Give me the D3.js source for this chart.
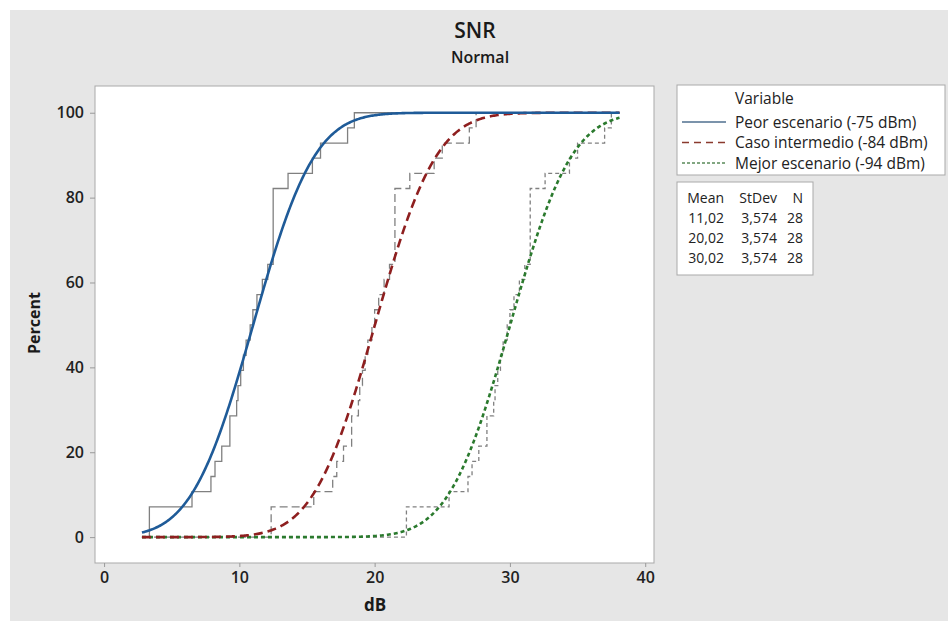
<!DOCTYPE html>
<html>
<head>
<meta charset="utf-8">
<script src="https://cdn.jsdelivr.net/npm/d3@7"></script>
<style>
  html, body { margin: 0; padding: 0; background: #ffffff; }
  svg { display: block; font-family: "Open Sans", "Noto Sans", sans-serif; }
</style>
</head>
<body>
<svg id="chart" width="948" height="621"></svg>
<script>
// ---------------- DATA ----------------
const categories = ["Peor escenario (-75 dBm)", "Caso intermedio (-84 dBm)", "Mejor escenario (-94 dBm)"];

const peorValues = [3.35, 3.35, 6.5, 7.9, 8.2, 8.7, 9.3, 9.3, 9.8, 9.9, 10.1, 10.3, 10.5, 10.8,
  11.0, 11.3, 11.7, 12.1, 12.5, 12.5, 12.5, 12.5, 12.5, 13.6, 15.4, 16.0, 18.0, 18.5];
const intermedioValues = [12.35, 12.35, 15.5, 16.9, 17.2, 17.7, 18.3, 18.3, 18.8, 18.9, 19.1, 19.3, 19.5, 19.8,
  20.0, 20.3, 20.7, 21.1, 21.5, 21.5, 21.5, 21.5, 21.5, 22.6, 24.4, 25.0, 27.0, 27.5];
const mejorValues = [22.35, 22.35, 25.5, 26.9, 27.2, 27.7, 28.3, 28.3, 28.8, 28.9, 29.1, 29.3, 29.5, 29.8,
  30.0, 30.3, 30.7, 31.1, 31.5, 31.5, 31.5, 31.5, 31.5, 32.6, 34.4, 35.0, 37.0, 37.5];

const means = [11.02, 20.02, 30.02];
const stdevs = [3.574, 3.574, 3.574];
const counts = [28, 28, 28];
const meanLabels = ["11,02", "20,02", "30,02"];
const stdevLabels = ["3,574", "3,574", "3,574"];

const xTicks = [0, 10, 20, 30, 40];
const yTicks = [0, 20, 40, 60, 80, 100];
const lineRange = [2.8, 38.1];   // x-range over which the curves are drawn

// ---------------- STYLE ----------------
const fitColors = ["#1f5b98", "#8e1f1f", "#2b7a2e"];
const legendColors = ["#4f6f8f", "#8a3a2e", "#5a8a5a"];
const stepColor = "#808080";
const fitDash = [null, "9,5", "4,3"];
const stepDash = [null, "8,4", "4,3"];
const legendDash = [null, "7,5", "3,2"];

const svg = d3.select("#chart");
const W = 948, H = 621;

// background
svg.append("rect").attr("x", 10).attr("y", 10).attr("width", W - 10).attr("height", H - 10).attr("fill", "#e6e6e6");

const plot = { left: 95, right: 654, top: 86, bottom: 563 };
const x = d3.scaleLinear().domain([-0.67, 40.65]).range([plot.left, plot.right]);
const y = d3.scaleLinear().domain([-6.1, 106.3]).range([plot.bottom, plot.top]);

// plot area
svg.append("rect").attr("x", plot.left).attr("y", plot.top)
  .attr("width", plot.right - plot.left).attr("height", plot.bottom - plot.top)
  .attr("fill", "#ffffff").attr("stroke", "#a9a9a9").attr("stroke-width", 1);

// titles
svg.append("text").attr("x", 475).attr("y", 38).attr("text-anchor", "middle")
  .attr("font-size", 21).attr("font-weight", 600).attr("fill", "#1a1a1a").text("SNR");
svg.append("text").attr("x", 480).attr("y", 63).attr("text-anchor", "middle")
  .attr("font-size", 16).attr("font-weight", 600).attr("fill", "#1a1a1a").text("Normal");

// axes
const xAxis = d3.axisBottom(x).tickValues(xTicks).tickSize(4).tickPadding(5).tickSizeOuter(0);
const gx = svg.append("g").attr("transform", `translate(0,${plot.bottom})`).call(xAxis);
gx.select(".domain").remove();
gx.selectAll("line").attr("stroke", "#9a9a9a");
gx.selectAll("text").attr("font-size", 16).attr("font-weight", 600).attr("fill", "#222")
  .attr("font-family", "'Open Sans', sans-serif");

const yAxis = d3.axisLeft(y).tickValues(yTicks).tickSize(5).tickPadding(6).tickSizeOuter(0);
const gy = svg.append("g").attr("transform", `translate(${plot.left},0)`).call(yAxis);
gy.select(".domain").remove();
gy.selectAll("line").attr("stroke", "#9a9a9a");
gy.selectAll("text").attr("font-size", 16).attr("font-weight", 600).attr("fill", "#222")
  .attr("font-family", "'Open Sans', sans-serif");

svg.append("text").attr("x", 375).attr("y", 611).attr("text-anchor", "middle")
  .attr("font-size", 17).attr("font-weight", 700).attr("fill", "#1a1a1a").text("dB");
svg.append("text").attr("transform", "translate(40,323) rotate(-90)").attr("text-anchor", "middle")
  .attr("font-size", 16).attr("font-weight", 700).attr("fill", "#1a1a1a").text("Percent");

// ---------------- helpers ----------------
function erf(z) {
  const t = 1 / (1 + 0.3275911 * Math.abs(z));
  const p = 1 - (((((1.061405429 * t - 1.453152027) * t) + 1.421413741) * t - 0.284496736) * t + 0.254829592) * t * Math.exp(-z * z);
  return z >= 0 ? p : -p;
}
function normCdf(v, m, s) { return 0.5 * (1 + erf((v - m) / (s * Math.SQRT2))); }

function ecdfPoints(vals) {
  const sorted = vals.slice().sort((a, b) => a - b);
  const n = sorted.length;
  const pts = [[lineRange[0], 0]];
  const grouped = d3.rollups(sorted, v => v.length, d => d);
  let cum = 0;
  grouped.forEach(([v, c]) => { cum += c; pts.push([v, cum / n * 100]); });
  pts.push([lineRange[1], 100]);
  return pts;
}

const seriesValues = [peorValues, intermedioValues, mejorValues];
svg.append("clipPath").attr("id", "clip").append("rect")
  .attr("x", plot.left).attr("y", plot.top).attr("width", plot.right - plot.left).attr("height", plot.bottom - plot.top);
const g = svg.append("g").attr("clip-path", "url(#clip)");

const stepLine = d3.line().x(d => x(d[0])).y(d => y(d[1])).curve(d3.curveStepAfter);
const smoothLine = d3.line().x(d => x(d[0])).y(d => y(d[1]));

// empirical step functions
seriesValues.forEach((vals, i) => {
  g.append("path").datum(ecdfPoints(vals)).attr("d", stepLine)
    .attr("fill", "none").attr("stroke", stepColor).attr("stroke-width", 1.3)
    .attr("stroke-dasharray", stepDash[i]);
});

// fitted normal curves
const grid = d3.range(0, 401).map(k => lineRange[0] + (lineRange[1] - lineRange[0]) * k / 400);
[2, 1, 0].forEach(i => {
  const pts = grid.map(v => [v, 100 * normCdf(v, means[i], stdevs[i])]);
  g.append("path").datum(pts).attr("d", smoothLine)
    .attr("fill", "none").attr("stroke", fitColors[i]).attr("stroke-width", 2.6)
    .attr("stroke-dasharray", fitDash[i]);
});

// ---------------- legend ----------------
const lg = svg.append("g");
lg.append("rect").attr("x", 677).attr("y", 85).attr("width", 268).attr("height", 90)
  .attr("fill", "#ffffff").attr("stroke", "#a9a9a9");
lg.append("text").attr("x", 735).attr("y", 104).attr("font-size", 15.5)
  .attr("fill", "#222").text("Variable");
categories.forEach((c, i) => {
  const yy = 122 + i * 20.5;
  lg.append("line").attr("x1", 682).attr("x2", 726).attr("y1", yy).attr("y2", yy)
    .attr("stroke", legendColors[i]).attr("stroke-width", 1.4).attr("stroke-dasharray", legendDash[i]);
  lg.append("text").attr("x", 735).attr("y", yy + 5.5).attr("font-size", 15.5)
    .attr("fill", "#222").text(c);
});

const st = svg.append("g");
st.append("rect").attr("x", 677).attr("y", 182).attr("width", 136).attr("height", 93)
  .attr("fill", "#ffffff").attr("stroke", "#a9a9a9");
const colRight = [724, 777, 803];
["Mean", "StDev", "N"].forEach((h, j) => {
  st.append("text").attr("x", colRight[j]).attr("y", 203).attr("text-anchor", "end")
    .attr("font-size", 14).attr("fill", "#222").text(h);
});
means.forEach((m, i) => {
  const yy = 223 + i * 20;
  [meanLabels[i], stdevLabels[i], String(counts[i])].forEach((t, j) => {
    st.append("text").attr("x", colRight[j]).attr("y", yy).attr("text-anchor", "end")
      .attr("font-size", 14).attr("fill", "#222").text(t);
  });
});
</script>
</body>
</html>
